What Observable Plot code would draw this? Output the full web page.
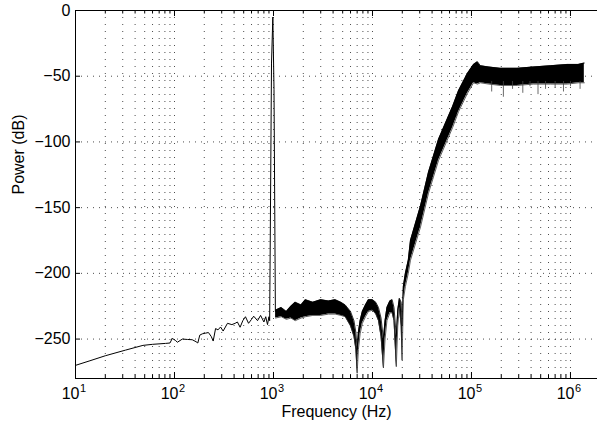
<!DOCTYPE html>
<html><head><meta charset="utf-8">
<script src="https://cdn.jsdelivr.net/npm/d3@7"></script>
<script src="https://cdn.jsdelivr.net/npm/@observablehq/plot@0.6"></script>
<style>body{margin:0;background:#fff}</style>
</head><body><div id="chart"></div>
<script>
// Low-frequency trace (single line) incl. the 1 kHz tone
const lineFreq = [10,14,20,32,48,60,81,90,95,102,107,120,135,151,165,172,180,191,206,220,235,246,260,275,292,310,343,380,410,432,460,490,521,560,600,631,690,741,800,835,870,900,915,955,985,1012,1045];
const lineDb   = [-270,-266.5,-262.7,-258.4,-254.8,-254,-253.3,-253,-249.5,-251,-252.4,-250,-250.3,-250.5,-252,-253,-247,-246,-245.5,-245,-248,-251.5,-242,-243,-240.8,-243.9,-238,-239,-238,-237,-241,-236,-233,-238,-235,-232.6,-236,-232,-237,-233,-239,-233,-236,-40,-5,-60,-229];

// Dense noisy region: upper / lower envelope
const bandFreq   = [1050,1200,1350,1500,1660,1900,2100,2500,3000,3600,4200,4800,5300,6000,6500,6800,7000,7200,7500,7900,8500,9100,10000,10800,11500,12200,12900,13400,14000,15000,15800,16500,17400,18000,18700,19500,19900,20500,21500,23000,24200,30500,36800,46500,64500,74000,91000,105000,115000,123000,150000,195000,290000,420000,630000,930000,1200000,1380000];
const bandTop    = [-228,-226,-229,-225,-222,-224,-220,-222,-220,-221,-220,-222,-224,-229,-236,-245,-258,-245,-236,-229,-224,-220,-220,-222,-226,-234,-250,-236,-226,-221,-220,-226,-248,-228,-219,-222,-240,-210,-200,-190,-175,-149,-123,-98,-73,-61,-48,-41,-39,-42,-43,-44,-44,-43,-42,-41,-41,-40];
const bandBottom = [-234,-233,-235,-234,-236,-234,-233,-232,-232,-231,-231,-232,-233,-240,-248,-258,-276,-258,-246,-238,-233,-229,-228,-231,-236,-248,-272,-250,-236,-230,-230,-236,-271,-240,-226,-240,-266,-220,-210,-200,-190,-165,-139,-114,-89,-77,-63,-55,-56,-55,-56,-57,-57,-56,-56,-56,-55,-55];

// Occasional downward noise spikes in the flat high-frequency region
const spikeFreq = [160000,210000,260000,330000,390000,470000,560000,700000,850000,1000000,1250000];
const spikeDb   = [-62,-66,-60,-63,-58,-64,-60,-59,-62,-58,-60];

// Axes
const yTicks = [0,-50,-100,-150,-200,-250];
const yTickLabels = ["0","\u221250","\u2212100","\u2212150","\u2212200","\u2212250"];
const xDecades = [10,100,1000,10000,100000,1000000];
const xExponents = ["1","2","3","4","5","6"];
const minorMultipliers = [2,3,4,5,6,7,8,9];

const xMinor = xDecades.slice(0,5).flatMap(d => minorMultipliers.map(k => d*k));
const xGrid = xDecades.slice(1).concat(xMinor);
const yGrid = yTicks.filter(v => v !== 0);

const line = lineFreq.map((f,i)=>({f, db: lineDb[i]}));
const band = bandFreq.map((f,i)=>({f, top: bandTop[i], bot: bandBottom[i]}));
const spikes = spikeFreq.map((f,i)=>({f, db: spikeDb[i]}));

const FH = 368; // frame height in px (style only)
const FW = 522;

const chart = Plot.plot({
  width: 597, height: 428,
  marginLeft: 75, marginRight: 0, marginTop: 10, marginBottom: 50,
  x: {type: "log", domain: [10, 1.875e6], axis: null},
  y: {domain: [-280, 0], axis: null},
  style: {fontFamily: "'Liberation Sans', Arial, Helvetica, sans-serif", background: "#fff", color: "#000", overflow: "visible"},
  marks: [
    Plot.ruleX(xGrid, {x: d=>d, stroke: "#000", strokeOpacity: 0.7, strokeDasharray: "1,6"}),
    Plot.ruleY(yGrid, {y: d=>d, stroke: "#000", strokeOpacity: 0.7, strokeDasharray: "1,5"}),
    Plot.line(line, {x: "f", y: "db", stroke: "#000", strokeWidth: 1}),
    Plot.areaY(band, {x: "f", y1: "bot", y2: "top", fill: "#000"}),
    Plot.line(band, {x: "f", y: "top", stroke: "#000", strokeWidth: 0.8}),
    Plot.line(band, {x: "f", y: "bot", stroke: "#333", strokeWidth: 0.8}),
    Plot.ruleX(spikes, {x: "f", y1: -54, y2: "db", stroke: "#444", strokeWidth: 0.8}),
    // frame
    Plot.ruleY([0, -280], {y: d=>d, stroke: "#000"}),
    Plot.ruleX([10], {x: d=>d, stroke: "#000"}),
    // inward ticks bottom/top
    Plot.tickX(xDecades, {x: d=>d, insetTop: FH-6, stroke: "#000"}),
    Plot.tickX(xMinor, {x: d=>d, insetTop: FH-3.5, stroke: "#000"}),
    Plot.tickX(xDecades, {x: d=>d, insetBottom: FH-6, stroke: "#000"}),
    Plot.tickX(xMinor, {x: d=>d, insetBottom: FH-3.5, stroke: "#000"}),
    Plot.tickY(yTicks, {y: d=>d, insetRight: FW-5, stroke: "#000"}),
    // tick labels
    Plot.text(yTicks, {y: d=>d, frameAnchor: "left", text: (d,i)=>yTickLabels[i], textAnchor: "end", dx: -5, fontSize: 16}),
    Plot.text(xDecades, {x: d=>d, frameAnchor: "bottom", text: ()=> "10", textAnchor: "end", dx: 4, dy: 20, fontSize: 16}),
    Plot.text(xDecades, {x: d=>d, frameAnchor: "bottom", text: (d,i)=>xExponents[i], textAnchor: "start", dx: 4.5, dy: 13, fontSize: 11}),
    // axis titles
    Plot.text(["Frequency (Hz)"], {frameAnchor: "bottom", text: d=>d, dy: 38, fontSize: 16}),
    Plot.text(["Power (dB)"], {frameAnchor: "left", text: d=>d, rotate: -90, dx: -57, fontSize: 16})
  ]
});
document.getElementById("chart").appendChild(chart);
</script>
</body></html>
